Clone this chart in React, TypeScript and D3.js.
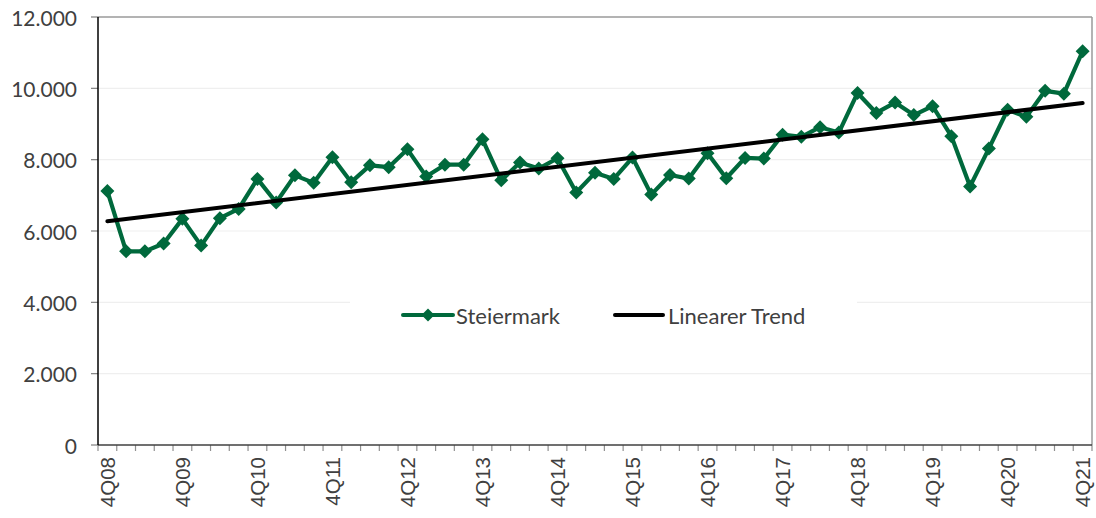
import React from "react";
import * as d3 from "d3";

const quarters: string[] = [
  "4Q08","1Q09","2Q09","3Q09","4Q09","1Q10","2Q10","3Q10","4Q10","1Q11","2Q11","3Q11",
  "4Q11","1Q12","2Q12","3Q12","4Q12","1Q13","2Q13","3Q13","4Q13","1Q14","2Q14","3Q14",
  "4Q14","1Q15","2Q15","3Q15","4Q15","1Q16","2Q16","3Q16","4Q16","1Q17","2Q17","3Q17",
  "4Q17","1Q18","2Q18","3Q18","4Q18","1Q19","2Q19","3Q19","4Q19","1Q20","2Q20","3Q20",
  "4Q20","1Q21","2Q21","3Q21","4Q21",
];

const steiermark: number[] = [
  7120, 5430, 5430, 5650, 6340, 5590, 6360, 6620, 7460, 6800, 7560, 7350,
  8070, 7370, 7840, 7790, 8290, 7530, 7860, 7860, 8570, 7420, 7920, 7750,
  8040, 7080, 7630, 7460, 8060, 7020, 7570, 7470, 8180, 7480, 8050, 8030,
  8700, 8640, 8910, 8760, 9870, 9310, 9600, 9250, 9500, 8660, 7250, 8310,
  9400, 9200, 9930, 9850, 11040,
];

const yTicks: number[] = [0, 2000, 4000, 6000, 8000, 10000, 12000];
const seriesNames: string[] = ["Steiermark", "Linearer Trend"];

const W = 1096;
const H = 518;
const left = 98;
const right = 1092;
const top = 17;
const bottom = 445;

const GREEN = "#00693C";
const TEXT = "#404040";

const de = d3.formatLocale({ decimal: ",", thousands: ".", grouping: [3], currency: ["", " €"] });
const fmt = de.format(",");

export default function App() {
  const idx = quarters.map((_, i) => i);
  const x = d3.scaleBand<number>().domain(idx).range([left, right]).paddingInner(0).paddingOuter(0);
  const bw = x.bandwidth();
  const cx = (i: number) => (x(i) as number) + bw / 2;
  const y = d3.scaleLinear().domain([0, 12000]).range([bottom, top]);

  // least squares linear trend
  const n = steiermark.length;
  const mx = d3.mean(idx) as number;
  const my = d3.mean(steiermark) as number;
  let sxy = 0, sxx = 0;
  idx.forEach((i) => {
    sxy += (i - mx) * (steiermark[i] - my);
    sxx += (i - mx) * (i - mx);
  });
  const slope = sxy / sxx;
  const intercept = my - slope * mx;
  const trend = [0, n - 1].map((i) => ({ i, v: intercept + slope * i }));

  const line = d3.line<number>().x((i) => cx(i)).y((i) => y(steiermark[i]));
  const tline = d3.line<{ i: number; v: number }>().x((d) => cx(d.i)).y((d) => y(d.v));

  const diamond = (px: number, py: number, r: number) =>
    `M${px},${py - r}L${px + r},${py}L${px},${py + r}L${px - r},${py}Z`;

  const tickXs = d3.range(n + 1).map((k) => left + k * bw);

  const legY = 315;

  return (
    <div style={{ position: "fixed", left: 0, top: 0 }}>
      <svg width={W} height={H} style={{ display: "block", background: "#fff" }}>
        {/* gridlines */}
        {yTicks.filter((t) => t > 0 && t < 12000).map((t) => (
          <line key={"g" + t} x1={left} x2={right} y1={y(t)} y2={y(t)} stroke="#efefef" strokeWidth={1.2} />
        ))}
        {/* legend background */}
        <rect x={350} y={285} width={507} height={60} fill="#fff" />
        {/* plot border top/right */}
        <line x1={left} x2={right} y1={top} y2={top} stroke="#9a9a9a" strokeWidth={1.5} />
        <line x1={right} x2={right} y1={top} y2={bottom} stroke="#9a9a9a" strokeWidth={1.5} />
        {/* y ticks */}
        {yTicks.map((t) => (
          <g key={"y" + t}>
            <line x1={91} x2={left} y1={y(t)} y2={y(t)} stroke="#808080" strokeWidth={1.2} />
            <text x={77} y={y(t)} textAnchor="end" dominantBaseline="central"
              fontFamily="Lato, 'Open Sans', sans-serif" fontSize={21} fill={TEXT}>
              {fmt(t)}
            </text>
          </g>
        ))}
        {/* x ticks */}
        {tickXs.map((tx, k) => (
          <line key={"xt" + k} x1={tx} x2={tx} y1={bottom} y2={bottom + 6} stroke="#909090" strokeWidth={1.2} />
        ))}
        {/* x labels */}
        {idx.filter((i) => i % 4 === 0).map((i) => (
          <text key={"xl" + i} transform={`translate(${cx(i)},${457}) rotate(-90)`}
            textAnchor="end" dominantBaseline="central"
            fontFamily="'Liberation Sans', Arial, sans-serif" fontSize={20.5} fill={TEXT}>
            {quarters[i]}
          </text>
        ))}
        {/* axes */}
        <line x1={left} x2={right} y1={bottom} y2={bottom} stroke="#404040" strokeWidth={1.5} />
        <line x1={left} x2={left} y1={top} y2={bottom} stroke="#000" strokeWidth={1.5} />
        {/* series */}
        <path d={line(idx) as string} fill="none" stroke={GREEN} strokeWidth={4.2} strokeLinejoin="round" />
        {idx.map((i) => (
          <path key={"m" + i} d={diamond(cx(i), y(steiermark[i]), 7)} fill={GREEN} />
        ))}
        <path d={tline(trend) as string} fill="none" stroke="#000" strokeWidth={4} strokeLinecap="round" />
        {/* legend */}
        <line x1={403} x2={453} y1={legY} y2={legY} stroke={GREEN} strokeWidth={4} strokeLinecap="round" />
        <path d={diamond(428, legY, 6.5)} fill={GREEN} />
        <text x={456} y={legY} dominantBaseline="central" fontFamily="Lato, 'Open Sans', sans-serif" fontSize={22} fill={TEXT}>
          {seriesNames[0]}
        </text>
        <line x1={615} x2={663} y1={legY} y2={legY} stroke="#000" strokeWidth={4} strokeLinecap="round" />
        <text x={668} y={legY} dominantBaseline="central" fontFamily="Lato, 'Open Sans', sans-serif" fontSize={22} fill={TEXT}>
          {seriesNames[1]}
        </text>
      </svg>
    </div>
  );
}
